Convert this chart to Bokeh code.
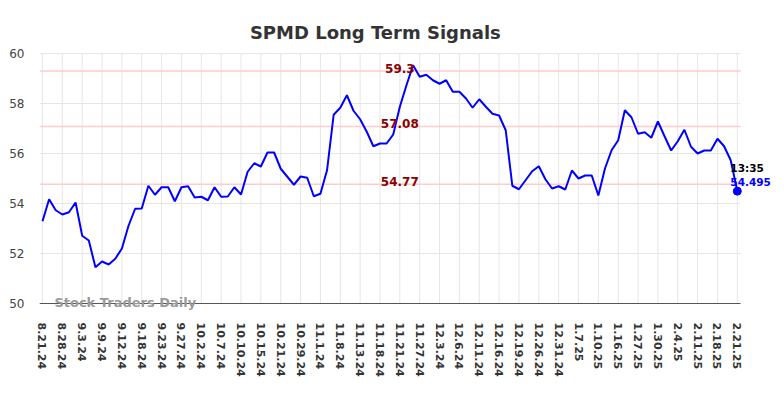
from bokeh.plotting import figure
from bokeh.models import Range1d, FixedTicker, ColumnDataSource
from bokeh.core.properties import value
from bokeh.embed import file_html
from bokeh.resources import INLINE

title = "SPMD Long Term Signals"

tick_labels = ["8.21.24", "8.28.24", "9.3.24", "9.9.24", "9.12.24", "9.18.24", "9.23.24",
               "9.27.24", "10.2.24", "10.7.24", "10.10.24", "10.15.24", "10.21.24",
               "10.29.24", "11.1.24", "11.8.24", "11.13.24", "11.18.24", "11.21.24",
               "11.27.24", "12.3.24", "12.6.24", "12.11.24", "12.16.24", "12.19.24",
               "12.26.24", "12.31.24", "1.7.25", "1.10.25", "1.16.25", "1.27.25",
               "1.30.25", "2.4.25", "2.11.25", "2.18.25", "2.21.25"]
points_per_tick = 3

prices = [53.29, 54.17, 53.73, 53.56, 53.65, 54.04, 52.71, 52.52, 51.45, 51.68,
          51.56, 51.79, 52.20, 53.11, 53.79, 53.80, 54.71, 54.35, 54.65, 54.65,
          54.09, 54.65, 54.69, 54.24, 54.27, 54.13, 54.65, 54.27, 54.28, 54.65,
          54.36, 55.27, 55.61, 55.48, 56.04, 56.04, 55.39, 55.07, 54.75, 55.08,
          55.03, 54.29, 54.39, 55.33, 57.55, 57.83, 58.33, 57.71, 57.37, 56.87,
          56.29, 56.40, 56.40, 56.76, 57.87, 58.73, 59.53, 59.07, 59.15, 58.93,
          58.79, 58.93, 58.47, 58.47, 58.20, 57.83, 58.17, 57.87, 57.59, 57.52,
          56.93, 54.71, 54.57, 54.93, 55.29, 55.49, 54.97, 54.60, 54.69, 54.56,
          55.32, 55.00, 55.12, 55.12, 54.32, 55.40, 56.13, 56.53, 57.73, 57.45,
          56.79, 56.85, 56.63, 57.28, 56.69, 56.12, 56.49, 56.95, 56.27, 56.00,
          56.12, 56.12, 56.59, 56.29, 55.73, 54.495]

levels = [59.3, 57.08, 54.77]
level_labels = ["59.3", "57.08", "54.77"]
level_label_index = 54

last_time = "13:35"
last_value = 54.495
watermark = "Stock Traders Daily"
y_ticks = [50, 52, 54, 56, 58, 60]

xs = list(range(len(prices)))
n = len(prices)

# plot area extents (data units)
x_lo, x_hi = -0.453, n - 1 + 0.48
y_lo, y_hi = y_ticks[0], y_ticks[-1]

p = figure(width=776, height=382, output_backend="svg", toolbar_location=None,
           x_range=Range1d(x_lo, 110.92), y_range=Range1d(49.72, 62.12),
           min_border_left=39, min_border_right=0, min_border_top=0, min_border_bottom=72)
p.outline_line_color = None
p.background_fill_color = "white"
p.border_fill_color = "white"

tick_pos = [i * points_per_tick for i in range(len(tick_labels))]
p.xaxis.ticker = FixedTicker(ticks=tick_pos)
p.xaxis.major_label_overrides = {t: l for t, l in zip(tick_pos, tick_labels)}
p.xaxis.major_label_orientation = "vertical"
p.xaxis.major_label_text_font = "DejaVu Sans"
p.xaxis.major_label_text_font_size = "11px"
p.xaxis.major_label_text_font_style = "bold"
p.xaxis.major_label_text_color = "#333333"
p.xaxis.major_label_standoff = 12
p.xaxis.major_tick_in = 0
p.xaxis.major_tick_out = 0
p.xaxis.minor_tick_in = 0
p.xaxis.minor_tick_out = 0
p.xaxis.axis_line_color = None

p.yaxis.ticker = FixedTicker(ticks=y_ticks)
p.yaxis.major_label_text_font = "DejaVu Sans"
p.yaxis.major_label_text_font_size = "12px"
p.yaxis.major_label_text_color = "#444444"
p.yaxis.major_label_standoff = 15
p.yaxis.major_tick_in = 0
p.yaxis.major_tick_out = 0
p.yaxis.minor_tick_in = 0
p.yaxis.minor_tick_out = 0
p.yaxis.axis_line_color = None

p.xgrid.grid_line_color = None
p.ygrid.grid_line_color = None

# grid limited to the chart area
p.segment(x0=tick_pos, y0=[y_lo] * len(tick_pos), x1=tick_pos, y1=[y_hi] * len(tick_pos),
          line_color="#e6e6e6", line_width=1)
p.segment(x0=[x_lo] * len(y_ticks), y0=y_ticks, x1=[x_hi] * len(y_ticks), y1=y_ticks,
          line_color="#e6e6e6", line_width=1)

# signal levels
p.segment(x0=[x_lo] * len(levels), y0=levels, x1=[x_hi] * len(levels), y1=levels,
          line_color="#ffcccc", line_width=1.5)

# x axis line
p.segment(x0=[x_lo], y0=[y_lo], x1=[x_hi], y1=[y_lo], line_color="#555555", line_width=1)

p.line(xs, prices, line_color="#0000ff", line_width=2)

src_lv = ColumnDataSource(dict(x=[level_label_index] * len(levels), y=levels, t=level_labels))
p.text(x="x", y="y", text="t", source=src_lv, text_align="center", text_baseline="alphabetic",
       y_offset=-3, text_color="#8b0000", text_font=value("DejaVu Sans"),
       text_font_size="12px", text_font_style="bold")

p.scatter([n - 1], [last_value], size=8, color="#0000ff")
p.text(x=[n - 1], y=[last_value], text=[last_time], text_align="left", text_baseline="alphabetic",
       x_offset=-7, y_offset=-23, text_color="#000000", text_font=value("DejaVu Sans"),
       text_font_size="10.5px", text_font_style="bold")
p.text(x=[n - 1], y=[last_value], text=[str(last_value)], text_align="left", text_baseline="alphabetic",
       x_offset=-7, y_offset=-9, text_color="#0000ff", text_font=value("DejaVu Sans"),
       text_font_size="10.5px", text_font_style="bold")

p.text(x=[1.8], y=[y_lo], text=[watermark], text_align="left", text_baseline="middle",
       y_offset=-1, text_color="#9a9a9a", text_font=value("DejaVu Sans"),
       text_font_size="13px", text_font_style="bold")

# chart title, centred above the plot area
p.text(x=[50.3], y=[y_hi], text=[title], text_align="center", text_baseline="alphabetic",
       y_offset=-21, text_color="#333333", text_font=value("DejaVu Sans"),
       text_font_size="18px", text_font_style="bold")

open("out.html", "w").write(file_html(p, INLINE))
